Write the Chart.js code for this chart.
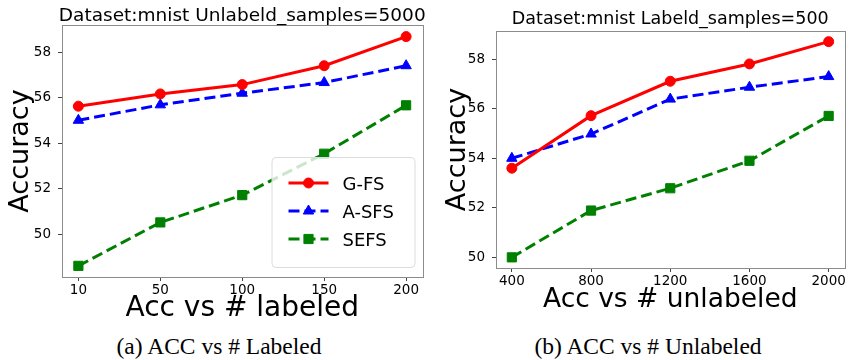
<!DOCTYPE html>
<html>
<head>
<meta charset="utf-8">
<script src="https://cdn.jsdelivr.net/npm/chart.js@4.4.1/dist/chart.umd.min.js"></script>
<style>
  body { margin: 0; background: #fff; width: 852px; height: 360px; position: relative; overflow: hidden; }
  .box { position: absolute; top: 0; height: 330px; }
  .cap { position: absolute; top: 335px; font-family: "Liberation Serif", serif; font-size: 23.5px; line-height: 23.5px; text-align: center; color: #000; white-space: nowrap; }
</style>
</head>
<body>
<div class="box" style="left:0;width:430px"><canvas id="chart-a"></canvas></div>
<div class="box" style="left:430px;width:422px"><canvas id="chart-b"></canvas></div>
<div class="cap" style="left:0;width:438px">(a) ACC vs # Labeled</div>
<div class="cap" style="left:430px;width:436px">(b) ACC vs # Unlabeled</div>
<script>
// (a) accuracy vs number of labeled samples
const labeledCounts = ['10', '50', '100', '150', '200'];
const gfsLabeled = [55.62, 56.16, 56.57, 57.40, 58.68];
const asfsLabeled = [55.00, 55.68, 56.19, 56.66, 57.40];
const sefsLabeled = [48.60, 50.51, 51.71, 53.53, 55.66];

// (b) accuracy vs number of unlabeled samples
const unlabeledCounts = ['400', '800', '1200', '1600', '2000'];
const gfsUnlabeled = [53.60, 55.72, 57.11, 57.81, 58.71];
const asfsUnlabeled = [54.00, 54.98, 56.39, 56.87, 57.30];
const sefsUnlabeled = [50.00, 51.89, 52.79, 53.90, 55.71];

const yTicks = [50, 52, 54, 56, 58];

Chart.defaults.font.family = '"DejaVu Sans"';
Chart.defaults.color = '#000';

function series(values) {
    return values.map((v, i) => ({ x: i, y: v }));
}

function drawMarker(ctx, style, r, x, y) {
    ctx.beginPath();
    if (style === 'circle') {
        ctx.arc(x, y, r, 0, Math.PI * 2);
    } else if (style === 'triangle') {
        ctx.moveTo(x, y - r);
        ctx.lineTo(x + r * 0.866, y + r * 0.5);
        ctx.lineTo(x - r * 0.866, y + r * 0.5);
        ctx.closePath();
    } else {
        const s = r * Math.SQRT1_2;
        ctx.rect(x - s, y - s, 2 * s, 2 * s);
    }
    ctx.fill();
    ctx.stroke();
}

const frame = {
    id: 'frame',
    beforeDatasetsDraw(chart) {
        const { ctx, chartArea: a } = chart;
        ctx.save();
        ctx.strokeStyle = '#8c8c8c';
        ctx.lineWidth = 1;
        ctx.strokeRect(Math.round(a.left) + 0.5, Math.round(a.top) + 0.5, Math.round(a.right - a.left), Math.round(a.bottom - a.top));
        ctx.restore();
    }
};

const topTitle = {
    id: 'topTitle',
    afterDraw(chart, args, o) {
        const { ctx, chartArea } = chart;
        ctx.save();
        ctx.font = o.size + 'px "DejaVu Sans"';
        ctx.fillStyle = '#000';
        ctx.textAlign = 'center';
        ctx.textBaseline = 'alphabetic';
        ctx.fillText(o.text, (chartArea.left + chartArea.right) / 2, o.baseline);
        ctx.restore();
    }
};

const lineLegend = {
    id: 'lineLegend',
    afterDatasetsDraw(chart, args, o) {
        if (!o.show) return;
        const { ctx, chartArea } = chart;
        const w = 143, h = 110;
        const x0 = chartArea.right - 8 - w;
        const y0 = chartArea.bottom - 10 - h;
        ctx.save();
        ctx.beginPath();
        ctx.roundRect(x0 + 0.5, y0 + 0.5, w, h, 4);
        ctx.fillStyle = 'rgba(255,255,255,0.8)';
        ctx.fill();
        ctx.strokeStyle = '#dcdcdc';
        ctx.lineWidth = 1;
        ctx.stroke();
        chart.data.datasets.forEach((ds, i) => {
            const y = y0 + 26 + i * 28;
            ctx.strokeStyle = ds.borderColor;
            ctx.lineWidth = ds.borderWidth;
            ctx.setLineDash(ds.borderDash || []);
            ctx.beginPath();
            ctx.moveTo(x0 + 17, y);
            ctx.lineTo(x0 + 57, y);
            ctx.stroke();
            ctx.setLineDash([]);
            ctx.fillStyle = ds.backgroundColor;
            ctx.lineWidth = 1;
            drawMarker(ctx, ds.pointStyle, ds.pointRadius, x0 + 37, y);
            ctx.fillStyle = '#000';
            ctx.font = '18px "DejaVu Sans"';
            ctx.textAlign = 'left';
            ctx.textBaseline = 'alphabetic';
            ctx.fillText(ds.label, x0 + 71, y + 6.5);
        });
        ctx.restore();
    }
};

function makeChart(id, cfg) {
    const datasets = [
        { label: 'G-FS', data: series(cfg.gfs), borderColor: '#ff0000', backgroundColor: '#ff0000', pointStyle: 'circle', pointRadius: 5 },
        { label: 'A-SFS', data: series(cfg.asfs), borderColor: '#0000ff', backgroundColor: '#0000ff', borderDash: [11, 5], pointStyle: 'triangle', pointRadius: 6 },
        { label: 'SEFS', data: series(cfg.sefs), borderColor: '#008000', backgroundColor: '#008000', borderDash: [11, 5], pointStyle: 'rect', pointRadius: 6.5 }
    ];
    datasets.forEach(d => { d.borderWidth = 3; d.pointBorderWidth = 1; d.tension = 0; });

    return new Chart(document.getElementById(id), {
        type: 'line',
        data: { datasets: datasets },
        plugins: [frame, topTitle, lineLegend],
        options: {
            responsive: true,
            maintainAspectRatio: false,
            animation: false,
            layout: { padding: { left: 0, right: cfg.padRight, top: cfg.padTop, bottom: 0 } },
            plugins: {
                legend: { display: false },
                tooltip: { enabled: false },
                topTitle: { text: cfg.title, size: cfg.titleSize, baseline: cfg.titleBaseline },
                lineLegend: { show: cfg.legend }
            },
            scales: {
                x: {
                    type: 'linear',
                    min: -0.2,
                    max: 4.2,
                    afterBuildTicks: s => { s.ticks = cfg.cats.map((c, i) => ({ value: i })); },
                    afterFit: s => { s.height = cfg.xHeight; },
                    border: { display: false },
                    grid: { display: true, drawOnChartArea: false, drawTicks: true, tickLength: 4, color: '#444' },
                    ticks: { font: { size: 13.5 }, padding: 1, maxRotation: 0, callback: v => cfg.cats[v] },
                    title: { display: true, text: cfg.xTitle, font: { size: cfg.xTitleSize }, padding: { top: 0, bottom: cfg.xTitlePad } }
                },
                y: {
                    min: cfg.yMin,
                    max: cfg.yMax,
                    afterBuildTicks: s => { s.ticks = yTicks.map(v => ({ value: v })); },
                    afterFit: s => { s.width = cfg.yWidth; },
                    border: { display: false },
                    grid: { display: true, drawOnChartArea: false, drawTicks: true, tickLength: 4, color: '#444' },
                    ticks: { font: { size: 13.5 }, padding: 7 },
                    title: { display: true, text: 'Accuracy', font: { size: 27 }, padding: { top: cfg.yTitlePad, bottom: 0 } }
                }
            }
        }
    });
}

makeChart('chart-a', {
    cats: labeledCounts, gfs: gfsLabeled, asfs: asfsLabeled, sefs: sefsLabeled,
    title: 'Dataset:mnist Unlabeld_samples=5000', titleSize: 18.5, titleBaseline: 20.5,
    xTitle: 'Acc vs # labeled', xTitleSize: 28, xTitlePad: 4,
    yMin: 48.11, yMax: 59.19, yWidth: 62, yTitlePad: 5,
    padTop: 25, padRight: 2, xHeight: 53, legend: true
});

makeChart('chart-b', {
    cats: unlabeledCounts, gfs: gfsUnlabeled, asfs: asfsUnlabeled, sefs: sefsUnlabeled,
    title: 'Dataset:mnist Labeld_samples=500', titleSize: 17.5, titleBaseline: 24,
    xTitle: 'Acc vs # unlabeled', xTitleSize: 26.5, xTitlePad: 14,
    yMin: 49.57, yMax: 59.14, yWidth: 66, yTitlePad: 12,
    padTop: 31, padRight: 3, xHeight: 62, legend: false
});
</script>
</body>
</html>
